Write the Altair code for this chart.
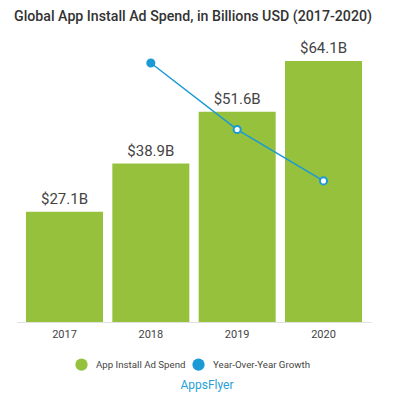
import altair as alt
import pandas as pd

years = ["2017", "2018", "2019", "2020"]
spend = [27.1, 38.9, 51.6, 64.1]
spend_labels = ["$27.1B", "$38.9B", "$51.6B", "$64.1B"]
growth_years = ["2018", "2019", "2020"]
growth = [43.5, 32.6, 24.2]
growth_fill = ["#1B9AD6", "#FFFFFF", "#FFFFFF"]
series = ["App Install Ad Spend", "Year-Over-Year Growth"]
colors = ["#95C13D", "#1B9AD6"]

bars_df = pd.DataFrame({"year": years, "spend": spend, "label": spend_labels,
                        "series": series[0]})
growth_df = pd.DataFrame({"year": growth_years, "growth": growth, "pfill": growth_fill})
logo_df = pd.DataFrame({"t": ["AppsFlyer"]})

FONT = "Roboto"

x = alt.X("year:N", sort=years, title=None,
          scale=alt.Scale(paddingInner=0.1, paddingOuter=0.1),
          axis=alt.Axis(labelAngle=0, ticks=False, domainColor="#e0e0e0",
                        labelColor="#444444", labelFontSize=11, labelFont=FONT,
                        labelPadding=6))
y_bar = alt.Y("spend:Q", axis=None, scale=alt.Scale(domain=[0, 66.3]))

bars = alt.Chart(bars_df).mark_bar(size=77).encode(
    x=x, y=y_bar,
    color=alt.Color("series:N", scale=alt.Scale(domain=series, range=colors),
                    legend=alt.Legend(title=None, orient="none", direction="horizontal",
                                      legendX=58, legendY=306, symbolType="circle",
                                      symbolSize=150, labelFontSize=9.7, labelFont=FONT,
                                      labelColor="#444444", labelOffset=8,
                                      columnPadding=6, symbolStrokeWidth=0))
)
labels = alt.Chart(bars_df).mark_text(baseline="alphabetic", dy=-8, fontSize=15,
                                      font=FONT, color="#444444").encode(
    x=alt.X("year:N", sort=years), y=y_bar, text="label:N")

bar_layer = alt.layer(bars, labels)

y_g = alt.Y("growth:Q", axis=None, scale=alt.Scale(domain=[1.1, 45.3]))
line = alt.Chart(growth_df).mark_line(color="#1B9AD6", strokeWidth=1.5).encode(
    x=alt.X("year:N", sort=years), y=y_g)
pts = alt.Chart(growth_df).mark_point(size=50, stroke="#1B9AD6", strokeWidth=2,
                                      opacity=1, filled=False).encode(
    x=alt.X("year:N", sort=years), y=y_g,
    fill=alt.Fill("pfill:N", scale=None))
growth_layer = alt.layer(line, pts)

logo = alt.Chart(logo_df).mark_text(font=FONT, fontSize=12, color="#2A9FD6",
                                    align="center", baseline="middle").encode(
    x=alt.value(190), y=alt.value(333), text="t:N")

chart = alt.layer(bar_layer, growth_layer, logo).resolve_scale(y="independent").properties(
    width=354, height=270,
    padding={"left": 6, "top": 1, "right": 10, "bottom": 5},
    title=alt.TitleParams("Global App Install Ad Spend, in Billions USD (2017-2020)",
                          anchor="start", dx=-3, fontSize=14.2, font=FONT,
                          fontWeight=500, color="#333333", offset=17),
).configure_view(stroke=None)

chart.save("out.html", embed_options={"renderer": "svg", "actions": False})
